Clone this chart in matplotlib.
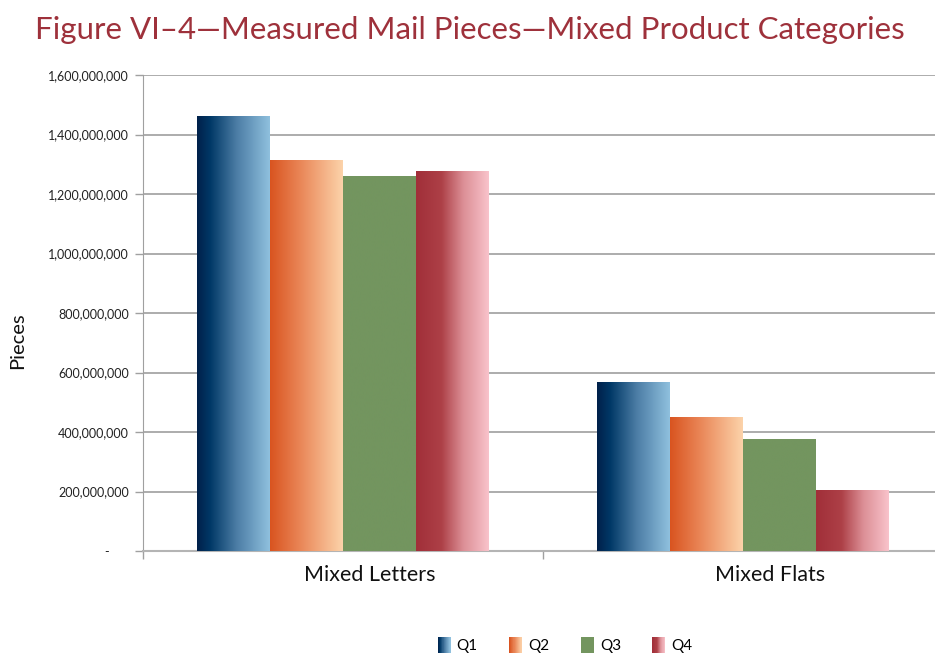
import numpy as np
import matplotlib
matplotlib.use("Agg")
import matplotlib.pyplot as plt
from matplotlib.colors import LinearSegmentedColormap
from matplotlib.patches import Rectangle
from matplotlib.legend_handler import HandlerBase
from matplotlib.transforms import ScaledTranslation

categories = ["Mixed Letters", "Mixed Flats"]
quarters = ["Q1", "Q2", "Q3", "Q4"]
pieces = {
    "Q1": [1459e6, 568e6],
    "Q2": [1314e6, 450e6],
    "Q3": [1260e6, 376e6],
    "Q4": [1274e6, 202e6],
}
yticks = [0, 200e6, 400e6, 600e6, 800e6, 1000e6, 1200e6, 1400e6, 1600e6]

# horizontal gradients for each quarter's bars
cmaps = {
    "Q1": LinearSegmentedColormap.from_list(
        "q1", [(0, "#00204a"), (0.18, "#003866"), (0.55, "#4d7ea6"), (1, "#8fc0de")]),
    "Q2": LinearSegmentedColormap.from_list(
        "q2", [(0, "#d95420"), (0.4, "#e98455"), (1, "#fcd3aa")]),
    "Q3": LinearSegmentedColormap.from_list("q3", ["#73955f", "#73955f"]),
    "Q4": LinearSegmentedColormap.from_list(
        "q4", [(0, "#a12f39"), (0.35, "#ad4047"), (0.65, "#dc8f96"), (1, "#f9c3cb")]),
}

plt.rcParams["font.family"] = ["Lato", "DejaVu Sans"]

fig = plt.figure(figsize=(9.35, 6.54), dpi=100)
ax = fig.add_axes([143 / 935, 103 / 654, 800 / 935, 476 / 654])

x = np.arange(len(categories))
w = 0.1825
grad = np.linspace(0, 1, 256).reshape(1, -1)
for i, q in enumerate(quarters):
    bars = ax.bar(x + (i - 1.5) * w, pieces[q], w, color="none", linewidth=0, zorder=3)
    for b in bars:
        bx, by, bw, bh = b.get_x(), b.get_y(), b.get_width(), b.get_height()
        ax.imshow(grad, extent=[bx, bx + bw, by, by + bh], aspect="auto",
                  cmap=cmaps[q], zorder=3, interpolation="bilinear")

ax.set_xlim(-0.5, 1.5)
ax.set_ylim(0, 1600e6)

ax.set_yticks(yticks)
ax.set_yticklabels(["-      "] + [f"{v:,.0f}" for v in yticks[1:]])
ax.tick_params(axis="y", length=6, width=1, color="#a0a0a0", pad=4,
               labelsize=9, labelcolor="#222222")
ax.yaxis.grid(True, color="#a6a6a6", linewidth=1.3, zorder=0)
ax.set_axisbelow(True)

ax.set_xticks(x)
ax.set_xticklabels(categories, fontsize=15.5, color="#111111")
ax.set_xticks([-0.5, 0.5, 1.5], minor=True)
ax.tick_params(axis="x", which="major", length=0, pad=10)
ax.tick_params(axis="x", which="minor", length=6, width=1, color="#a0a0a0")
# category names sit a little right of the bar groups
shift = ScaledTranslation(0.27, 0, fig.dpi_scale_trans)
for lbl in ax.get_xticklabels():
    lbl.set_transform(lbl.get_transform() + shift)

for s in ["top", "right"]:
    ax.spines[s].set_visible(False)
ax.spines["left"].set_color("#a0a0a0")
ax.spines["bottom"].set_color("#b4b4b4")
ax.spines["bottom"].set_linewidth(1.5)

fig.text(18 / 935, 313 / 654, "Pieces", rotation=90, ha="center", va="center",
         fontsize=14.5, color="#111111")

fig.text(470 / 935, 1 - 30 / 654,
         "Figure VI\u20134\u2014Measured Mail Pieces\u2014Mixed Product Categories",
         ha="center", va="center", fontsize=22.5, color="#9e313b")


class GradientHandler(HandlerBase):
    def __init__(self, cmap, n=24):
        super().__init__()
        self.cmap = cmap
        self.n = n

    def create_artists(self, legend, orig_handle, xdescent, ydescent,
                       width, height, fontsize, trans):
        step = width / self.n
        return [Rectangle((-xdescent + k * step, -ydescent), step * 1.05, height,
                          facecolor=self.cmap(k / (self.n - 1)), linewidth=0,
                          transform=trans)
                for k in range(self.n)]


handles = [Rectangle((0, 0), 1, 1) for _ in quarters]
fig.legend(handles, quarters, loc="center", bbox_to_anchor=(565 / 935, 1 - 645 / 654),
           ncol=4, frameon=False, fontsize=11, handlelength=0.85, handleheight=1.2,
           handletextpad=0.4, columnspacing=2.05,
           handler_map={h: GradientHandler(cmaps[q]) for h, q in zip(handles, quarters)})

fig.savefig("out.png", dpi=100)
